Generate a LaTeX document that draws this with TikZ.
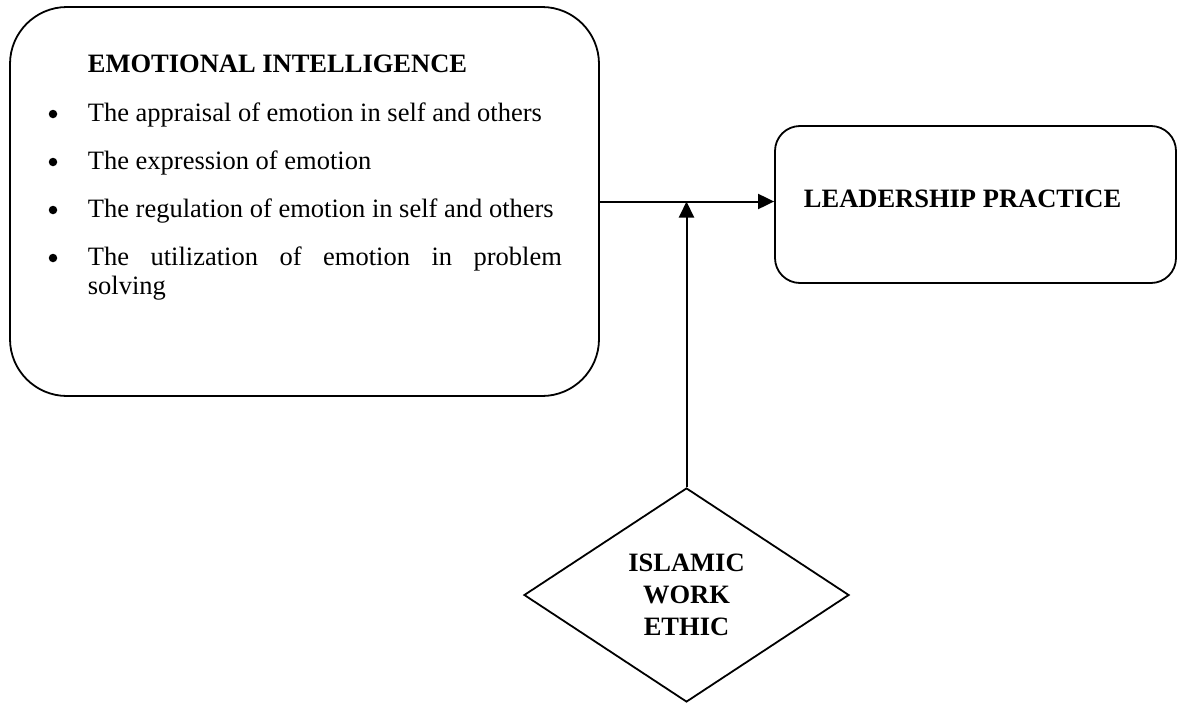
\documentclass[tikz,border=0pt]{standalone}
\usepackage{fontspec}
\setmainfont{Liberation Serif}
\usetikzlibrary{arrows.meta,shapes.geometric}
\begin{document}
\begin{tikzpicture}[x=1pt,y=-1pt,line width=1.8pt,
  txt/.style={inner sep=0pt,anchor=base west,font=\fontsize{26.5}{29}\selectfont},
  ttl/.style={inner sep=0pt,anchor=base west,font=\fontsize{26.5}{31}\selectfont\bfseries},
  bul/.style={circle,fill,draw=none,inner sep=0pt,minimum size=8.5pt},
  arr/.style={-{Triangle[length=16pt,width=15pt]},line width=2pt}]
\useasboundingbox (0,0) rectangle (1178,704);
% boxes
\node[draw,rounded corners=57pt,minimum width=589pt,minimum height=389pt,inner sep=0pt] (ei) at (304.5,201.5) {};
\node[draw,rounded corners=25pt,minimum width=401pt,minimum height=157pt,inner sep=0pt] (lp) at (975.5,204.5) {};
\node[draw,diamond,minimum width=325pt,minimum height=214pt,inner sep=0pt,align=center,
      font=\fontsize{26.5}{32}\selectfont\bfseries] (iwe) at (686.5,595) {ISLAMIC\\WORK\\ETHIC};
% texts
\node[ttl] (eit) at (87,72) {EMOTIONAL INTELLIGENCE};
\node[bul] (b1) at (53,114) {};
\node[txt] (t1) at (87,121) {The appraisal of emotion in self and others};
\node[bul] (b2) at (53,162) {};
\node[txt] (t2) at (87,169) {The expression of emotion};
\node[bul] (b3) at (53,210) {};
\node[txt] (t3) at (87,217) {The regulation of emotion in self and others};
\node[bul] (b4) at (53,258) {};
\node[txt,align=left] (t4) at (87,294) {\makebox[474pt][s]{The utilization of emotion in problem}\\solving};
\node[ttl] (lpt) at (803,207) {LEADERSHIP PRACTICE};
% connectors
\draw[arr] (ei.east) -- (ei.east -| lp.west);
\draw[arr] (iwe.north) -- (iwe.north |- ei.east);
\end{tikzpicture}
\end{document}
